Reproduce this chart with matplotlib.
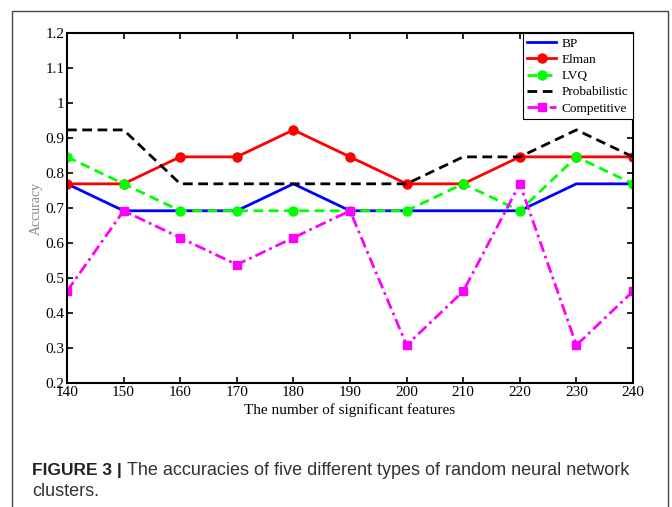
import numpy as np
import matplotlib
matplotlib.use('Agg')
import matplotlib.pyplot as plt
from matplotlib.patches import Rectangle

# data (accuracy)
features = [140, 150, 160, 170, 180, 190, 200, 210, 220, 230, 240]
bp = [0.769, 0.692, 0.692, 0.692, 0.769, 0.692, 0.692, 0.692, 0.692, 0.769, 0.769]
elman = [0.769, 0.769, 0.846, 0.846, 0.923, 0.846, 0.769, 0.769, 0.846, 0.846, 0.846]
lvq = [0.846, 0.769, 0.692, 0.692, 0.692, 0.692, 0.692, 0.769, 0.692, 0.846, 0.769]
prob = [0.923, 0.923, 0.769, 0.769, 0.769, 0.769, 0.769, 0.846, 0.846, 0.923, 0.846]
compet = [0.462, 0.692, 0.615, 0.538, 0.615, 0.692, 0.308, 0.462, 0.769, 0.308, 0.462]
yticks = [0.2, 0.3, 0.4, 0.5, 0.6, 0.7, 0.8, 0.9, 1.0, 1.1, 1.2]
ytick_labels = ['0.2', '0.3', '0.4', '0.5', '0.6', '0.7', '0.8', '0.9', '1', '1.1', '1.2']

serif = 'Liberation Serif'

fig = plt.figure(figsize=(6.72, 5.07), dpi=100)
ax = fig.add_axes([0.0997, 0.2446, 0.8423, 0.6904])

lw = 2.0
ax.plot(features, bp, color='#0000ff', lw=lw, label='BP')
ax.plot(features, elman, color='#ff0000', lw=lw, marker='o', ms=6.5, label='Elman')
ax.plot(features, lvq, color='#00ff00', lw=lw, ls=(0, (3.5, 2)), marker='o', ms=6.5, label='LVQ')
ax.plot(features, prob, color='black', lw=lw, ls=(0, (3.5, 2)), label='Probabilistic')
ax.plot(features, compet, color='#ff00ff', lw=lw, ls=(0, (4, 1.5, 1, 1.5)), marker='s', ms=5.5,
        label='Competitive')

ax.set_xlim(140, 240)
ax.set_ylim(0.2, 1.2)
ax.set_xticks(features)
ax.set_yticks(yticks)
ax.set_yticklabels(ytick_labels)
ax.tick_params(direction='in', top=True, right=True, length=4, width=1.2, labelsize=11, pad=2)
for lab in ax.get_xticklabels() + ax.get_yticklabels():
    lab.set_fontfamily(serif)
for s in ax.spines.values():
    s.set_linewidth(1.5)

ax.set_xlabel('The number of significant features', fontfamily=serif, fontsize=11, labelpad=3)
ax.set_ylabel('Accuracy', fontfamily=serif, fontsize=10, color='#888888', labelpad=2)

leg = ax.legend(loc='upper right', prop={'family': serif, 'size': 9.5}, fancybox=False,
                edgecolor='black', framealpha=1, borderaxespad=0, handlelength=2.2,
                labelspacing=0.3, handletextpad=0.4, borderpad=0.35)
leg.get_frame().set_linewidth(0.8)

# outer frame of the figure box
fig.patches.append(Rectangle((12 / 672, -0.05), (668 - 12) / 672, 1.05 - 11 / 507,
                             transform=fig.transFigure, fill=False, edgecolor='#444444',
                             lw=1.0))

# caption
fig.text(32 / 672, 1 - 475 / 507, 'FIGURE 3 |', fontfamily='Liberation Sans', fontweight='bold',
         fontsize=12.5, va='baseline', color='#222222')
fig.text(127 / 672, 1 - 475 / 507, 'The accuracies of five different types of random neural network',
         fontfamily='Liberation Sans', fontsize=13, va='baseline', color='#333333')
fig.text(32 / 672, 1 - 496 / 507, 'clusters.', fontfamily='Liberation Sans', fontsize=13,
         va='baseline', color='#333333')

fig.savefig('out.png', dpi=100)
